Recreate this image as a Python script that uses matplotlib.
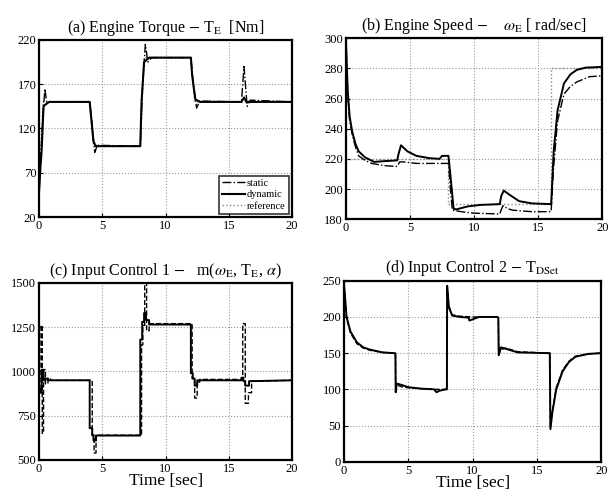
import numpy as np
import matplotlib.pyplot as plt

plt.rcParams['font.family'] = ['Liberation Serif', 'DejaVu Serif']
plt.rcParams['mathtext.fontset'] = 'stix'

#-----------Data----------------------------------

# (a) engine torque [Nm]
ta_ref = [0, 0.3, 4.0, 4.3, 8.0, 8.3, 12.0, 12.3, 20]
Ta_ref = [50, 150, 150, 100, 100, 200, 200, 150, 150]
ta_dyn = [0, 0.1, 0.2, 0.35, 0.5, 0.8, 4.0, 4.1, 4.3, 4.5, 8.0, 8.1, 8.3, 8.7, 12.0, 12.1, 12.35, 12.7, 16.0, 16.2, 16.4, 16.7, 20]
Ta_dyn = [50, 75, 95, 145, 147, 150, 150, 135, 105, 100, 100, 150, 195, 200, 200, 180, 153, 150, 150, 155, 150, 150, 150]
ta_sta = [0, 0.1, 0.25, 0.45, 0.6, 0.8, 4.0, 4.15, 4.4, 4.6, 8.0, 8.15, 8.4, 8.6, 8.9, 12.0, 12.2, 12.45, 12.7, 16.0, 16.1, 16.2, 16.45, 16.7, 20]
Ta_sta = [50, 80, 120, 165, 150, 150, 150, 130, 93, 101, 100, 160, 215, 195, 200, 200, 170, 143, 151, 150, 170, 190, 145, 152, 150]

# (b) engine speed [rad/sec]
tb_ref = [0, 8.0, 8.0, 16.0, 16.0, 20]
wb_ref = [220, 220, 190, 190, 280, 280]
tb_dyn = [0, 0.15, 0.3, 0.5, 0.75, 1.0, 1.5, 2.2, 3.0, 4.0, 4.1, 4.3, 4.8, 5.5, 6.5, 7.3, 7.5, 8.0, 8.2, 8.4, 8.6, 9.5, 10.5, 12.0, 12.1, 12.3, 12.8, 13.5, 14.5, 16.0, 16.2, 16.5, 17.0, 17.5, 18.0, 18.7, 20]
wb_dyn = [300, 265, 248, 238, 230, 225, 221, 218, 218.5, 219, 223, 229, 225, 222, 220.5, 220, 222, 222, 205, 187, 186.5, 188.5, 189.5, 190, 195, 199, 196, 192, 190.5, 190, 225, 252, 270, 276, 279, 280.5, 281]
tb_sta = [0, 0.15, 0.3, 0.5, 0.75, 1.0, 1.5, 2.0, 3.0, 4.0, 4.2, 4.5, 5.5, 6.5, 8.0, 8.15, 8.3, 9.0, 10.0, 12.0, 12.1, 12.25, 12.6, 13.0, 14.5, 16.0, 16.2, 16.5, 17.0, 17.5, 18.0, 19.0, 20]
wb_sta = [300, 262, 245, 236, 228, 222, 219, 217, 215.5, 215, 218, 218, 217, 217, 217, 200, 186, 185, 184, 183.5, 186, 189, 187, 186, 185, 185, 215, 245, 263, 268, 271, 274.5, 275]

# (c) input control 1
tc_dyn = [0, 0.1, 0.1, 0.2, 0.2, 0.35, 0.35, 0.5, 0.5, 0.7, 0.7, 4.0, 4.0, 4.2, 4.2, 4.3, 4.3, 4.5, 4.5, 8.0, 8.0, 8.15, 8.15, 8.3, 8.3, 8.45, 8.45, 8.7, 8.7, 12.0, 12.0, 12.15, 12.15, 12.3, 12.3, 12.5, 12.5, 16.0, 16.0, 16.15, 16.15, 16.3, 16.3, 16.6, 16.6, 20]
mc_dyn = [900, 900, 880, 880, 1010, 1010, 950, 950, 960, 960, 950, 950, 680, 680, 640, 640, 610, 610, 638, 638, 1180, 1180, 1280, 1280, 1330, 1330, 1290, 1290, 1265, 1265, 990, 990, 960, 960, 920, 920, 950, 950, 965, 965, 945, 945, 920, 920, 945, 950]
tc_sta = [0.1, 0.15, 0.15, 0.25, 0.25, 0.35, 0.35, 0.5, 0.5, 0.7, 0.7, 0.9, 0.9, 4.0, 4.2, 4.2, 4.35, 4.35, 4.5, 4.5, 8.0, 8.1, 8.1, 8.2, 8.2, 8.35, 8.35, 8.5, 8.5, 8.7, 8.7, 12.0, 12.1, 12.1, 12.3, 12.3, 12.5, 12.5, 12.7, 12.7, 16.0, 16.1, 16.1, 16.3, 16.3, 16.55, 16.55, 16.8, 16.8, 20]
mc_sta = [900, 900, 1260, 1260, 650, 650, 1010, 1010, 930, 930, 960, 960, 950, 950, 950, 640, 640, 540, 540, 640, 640, 640, 1150, 1150, 1260, 1260, 1500, 1500, 1230, 1230, 1270, 1270, 1270, 960, 960, 850, 850, 940, 940, 955, 955, 955, 1270, 1270, 820, 820, 880, 880, 945, 950]

# (d) input control 2 - T_DSet
td_dyn = [0, 0.05, 0.2, 0.5, 1.0, 1.5, 2.0, 3.0, 3.9, 4.0, 4.02, 4.1, 4.5, 5.0, 6.0, 7.0, 7.2, 7.4, 7.9, 8.0, 8.02, 8.15, 8.4, 9.0, 9.7, 9.75, 10.5, 11.9, 12.0, 12.03, 12.2, 12.6, 13.5, 15.9, 16.0, 16.05, 16.2, 16.5, 17.0, 17.5, 18.0, 19.0, 20]
Td_dyn = [245, 235, 200, 180, 165, 158, 155, 151, 150, 150, 96, 108, 106, 103, 101, 100, 96, 98, 100, 100, 243, 215, 202, 200, 199, 195, 200, 200, 199, 147, 158, 156, 151, 150, 150, 45, 68, 100, 125, 138, 145, 149, 150]
td_sta = [0, 0.05, 0.2, 0.5, 1.0, 1.5, 2.0, 3.0, 3.9, 4.0, 4.02, 4.1, 4.6, 5.2, 6.0, 7.0, 7.9, 8.0, 8.02, 8.15, 8.4, 9.0, 10.0, 11.9, 12.0, 12.03, 12.2, 12.6, 13.5, 15.9, 16.0, 16.05, 16.2, 16.5, 17.0, 17.5, 18.0, 19.0, 20]
Td_sta = [245, 232, 198, 178, 163, 157, 154, 151, 150, 150, 98, 106, 103, 102, 101, 100, 100, 100, 240, 212, 203, 201, 200, 200, 199, 150, 155, 157, 152, 150, 150, 48, 70, 102, 127, 139, 146, 149, 150]

#-----------Figure-------------

fig = plt.figure(figsize=(6.11, 4.96), dpi=100)
ax_a = fig.add_axes([0.064, 0.5625, 0.414, 0.357])
ax_b = fig.add_axes([0.566, 0.558, 0.420, 0.365])
ax_c = fig.add_axes([0.064, 0.0726, 0.414, 0.357])
ax_d = fig.add_axes([0.563, 0.069, 0.421, 0.365])


def style(ax, ylim, yticks, title):
    ax.set_xlim(0, 20)
    ax.set_ylim(*ylim)
    ax.set_xticks([0, 5, 10, 15, 20])
    ax.set_yticks(yticks)
    ax.grid(True, linestyle=':', color='#999999', linewidth=0.8)
    ax.tick_params(direction='in', labelsize=9, length=3, width=0.8, pad=2)
    for s in ax.spines.values():
        s.set_linewidth(1.6)
    ax.set_title(title, fontsize=11.5, pad=6)


#-----------(a) Engine torque-------------

ax_a.plot(ta_ref, Ta_ref, ':', color='#888888', lw=1.0, label='reference')
ax_a.plot(ta_sta, Ta_sta, '-.', color='black', lw=1.0, label='static')
ax_a.plot(ta_dyn, Ta_dyn, '-', color='black', lw=1.5, label='dynamic')
style(ax_a, (20, 220), [20, 70, 120, 170, 220], r'(a) Engine Torque $-$ T$_{\mathrm{E}}$  [Nm]')
h, l = ax_a.get_legend_handles_labels()
leg = ax_a.legend([h[1], h[2], h[0]], [l[1], l[2], l[0]], loc='lower right', fontsize=7.5,
                  frameon=True, fancybox=False, edgecolor='black', handlelength=2.2,
                  borderpad=0.3, labelspacing=0.2, handletextpad=0.2, borderaxespad=0.3)
leg.get_frame().set_linewidth(1.2)

#-----------(b) Engine speed-------------

ax_b.plot(tb_ref, wb_ref, ':', color='#888888', lw=1.0)
ax_b.plot(tb_sta, wb_sta, '-.', color='black', lw=1.0)
ax_b.plot(tb_dyn, wb_dyn, '-', color='black', lw=1.4)
style(ax_b, (180, 300), [180, 200, 220, 240, 260, 280, 300], r'(b) Engine Speed $-$    $\omega_{\mathrm{E}}$ [ rad/sec]')

#-----------(c) Input control 1-------------

ax_c.plot(tc_sta, mc_sta, '--', color='black', lw=1.0)
ax_c.plot(tc_dyn, mc_dyn, '-', color='black', lw=1.4)
style(ax_c, (500, 1500), [500, 750, 1000, 1250, 1500], r'(c) Input Control 1 $-$   m($\omega_{\mathrm{E}}$, T$_{\mathrm{E}}$, $\alpha$)')
ax_c.set_xlabel('Time [sec]', fontsize=12.5, labelpad=-1)

#-----------(d) Input control 2-------------

ax_d.plot(td_sta, Td_sta, '--', color='black', lw=1.0)
ax_d.plot(td_dyn, Td_dyn, '-', color='black', lw=1.4)
style(ax_d, (0, 250), [0, 50, 100, 150, 200, 250], r'(d) Input Control 2 $-$ T$_{\mathrm{DSet}}$')
ax_d.set_xlabel('Time [sec]', fontsize=12.5, labelpad=-1)

fig.savefig('out.png', dpi=100)
